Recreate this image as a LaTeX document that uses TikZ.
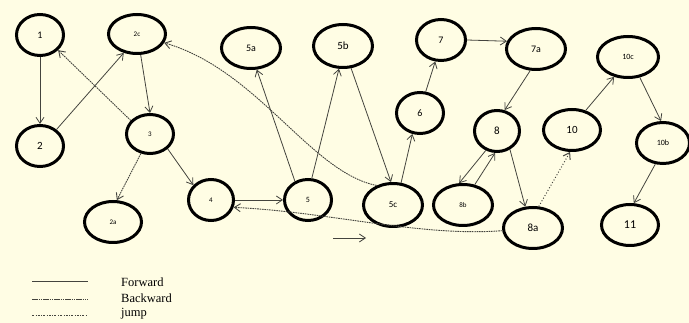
\documentclass[tikz,border=0pt]{standalone}
\usepackage{fontspec}
\setmainfont{Liberation Serif}
\newfontfamily\lbl{Carlito}
\usetikzlibrary{shapes.geometric,arrows.meta}
\definecolor{bgcream}{HTML}{FFFDE4}
\definecolor{edgegray}{HTML}{44443E}
\tikzset{
  st/.style={ellipse,draw=black,line width=3pt,inner sep=0pt,font=\lbl\fontsize{8}{8}\selectfont},
  fwd/.style={draw=edgegray,line width=0.8pt,-{Straight Barb[length=6pt,width=8pt]}},
  bwd/.style={draw=edgegray,line width=0.9pt,dash pattern=on 1.6pt off 0.8pt,-{Straight Barb[length=6pt,width=8pt]}},
  jmp/.style={draw=edgegray,line width=1pt,dash pattern=on 1pt off 2pt,-{Straight Barb[length=6pt,width=8pt]}},
  legline/.style={draw=edgegray,line width=0.8pt},
  legtext/.style={anchor=west,inner sep=0pt,font=\fontsize{12.5}{14}\selectfont}
}
\begin{document}
\begin{tikzpicture}[x=1pt,y=-1pt]
\fill[bgcream] (0,0) rectangle (689,323);
\useasboundingbox (0,0) rectangle (689,323);
% nodes
\node[st,minimum width=47pt,minimum height=41pt,font=\lbl\fontsize{10}{10}\selectfont] (n1) at (40,35) {1};
\node[st,minimum width=57pt,minimum height=39pt,font=\lbl\fontsize{7}{7}\selectfont] (n2c) at (137,34) {2c};
\node[st,minimum width=47pt,minimum height=41pt,font=\lbl\fontsize{11}{11}\selectfont] (n2) at (40,146) {2};
\node[st,minimum width=47pt,minimum height=39pt,font=\lbl\fontsize{7}{7}\selectfont] (n3) at (150,134) {3};
\node[st,minimum width=57pt,minimum height=41pt,font=\lbl\fontsize{7}{7}\selectfont] (n2a) at (113,222) {2a};
\node[st,minimum width=45pt,minimum height=41pt,font=\lbl\fontsize{7}{7}\selectfont] (n4) at (211,200) {4};
\node[st,minimum width=59pt,minimum height=41pt,font=\lbl\fontsize{10}{10}\selectfont] (n5a) at (251,48) {5a};
\node[st,minimum width=59pt,minimum height=43pt,font=\lbl\fontsize{11}{11}\selectfont] (n5b) at (343,46) {5b};
\node[st,minimum width=47pt,minimum height=41pt,font=\lbl\fontsize{8}{8}\selectfont] (n5) at (308,200) {5};
\node[st,minimum width=59pt,minimum height=43pt,font=\lbl\fontsize{9}{9}\selectfont] (n5c) at (393,205) {5c};
\node[st,minimum width=47pt,minimum height=41pt,font=\lbl\fontsize{10}{10}\selectfont] (n6) at (420,113) {6};
\node[st,minimum width=49pt,minimum height=41pt,font=\lbl\fontsize{10}{10}\selectfont] (n7) at (441,40) {7};
\node[st,minimum width=59pt,minimum height=41pt,font=\lbl\fontsize{10}{10}\selectfont] (n7a) at (536,49) {7a};
\node[st,minimum width=45pt,minimum height=41pt,font=\lbl\fontsize{11}{11}\selectfont] (n8) at (497,131) {8};
\node[st,minimum width=59pt,minimum height=41pt,font=\lbl\fontsize{7}{7}\selectfont] (n8b) at (463,205) {8b};
\node[st,minimum width=59pt,minimum height=41pt,font=\lbl\fontsize{11}{11}\selectfont] (n8a) at (533,228) {8a};
\node[st,minimum width=57pt,minimum height=41pt,font=\lbl\fontsize{11}{11}\selectfont] (n10) at (572,130) {10};
\node[st,minimum width=61pt,minimum height=41pt,font=\lbl\fontsize{8}{8}\selectfont] (n10c) at (628,57) {10c};
\node[st,minimum width=53pt,minimum height=41pt,font=\lbl\fontsize{8}{8}\selectfont] (n10b) at (663,143) {10b};
\node[st,minimum width=57pt,minimum height=41pt,font=\lbl\fontsize{12}{12}\selectfont] (n11) at (630,225) {11};
% forward edges
\draw[fwd] (n1.south) -- (n2.north);
\draw[fwd] (n2.45) -- (n2c.235);
\draw[fwd] (n2c.-80) -- (n3.north);
\draw[fwd] (n3.-40) -- (n4.140);
\draw[fwd] (n4.east) -- (n5.west);
\draw[fwd] (n5.125) -- (n5a.-75);
\draw[fwd] (n5.80) -- (n5b.-100);
\draw[fwd] (n5b.-70) -- (n5c.95);
\draw[fwd] (n5c.70) -- (n6.-110);
\draw[fwd] (n6.75) -- (n7.-105);
\draw[fwd] (n7.east) -- (n7a.165);
\draw[fwd] (n7a.-105) -- (n8.70);
\draw[fwd] (n8.-120) -- (n8b.100);
\draw[fwd] (n8b.60) -- (n8.-95);
\draw[fwd] (n8.-55) -- (n8a.110);
\draw[fwd] (n10.55) -- (n10c.-125);
\draw[fwd] (n10c.-60) -- (n10b.95);
\draw[fwd] (n10b.-110) -- (n11.80);
% backward edges
\draw[bwd] (n3.145) -- (n1.-40);
\draw[bwd] (n3.-115) -- (n2a.80);
\draw[bwd] (n5c.130) .. controls (310,172) and (258,70) .. (n2c.-18);
\draw[bwd] (n8a.185) .. controls (420,237) and (330,212) .. (n4.-18);
% jump edge
\draw[jmp] (n8a.75) -- (n10.-95);
% free arrow
\coordinate (fa) at (333,238);
\coordinate (fb) at (366,238);
\draw[fwd] (fa) -- (fb);
% legend
\coordinate (l1a) at (32,281); \coordinate (l1b) at (88,281);
\coordinate (l2a) at (32,299); \coordinate (l2b) at (88,299);
\coordinate (l3a) at (32,315); \coordinate (l3b) at (88,315);
\draw[legline] (l1a) -- (l1b);
\draw[legline,dash pattern=on 1.6pt off 0.6pt] (l2a) -- (l2b);
\draw[legline,dash pattern=on 2pt off 1.5pt on 0.6pt off 1.5pt] (l3a) -- (l3b);
\node[legtext] (t1) at (121,282) {Forward};
\node[legtext] (t2) at (121,298) {Backward};
\node[legtext] (t3) at (121,314) {jump};
\end{tikzpicture}
\end{document}
